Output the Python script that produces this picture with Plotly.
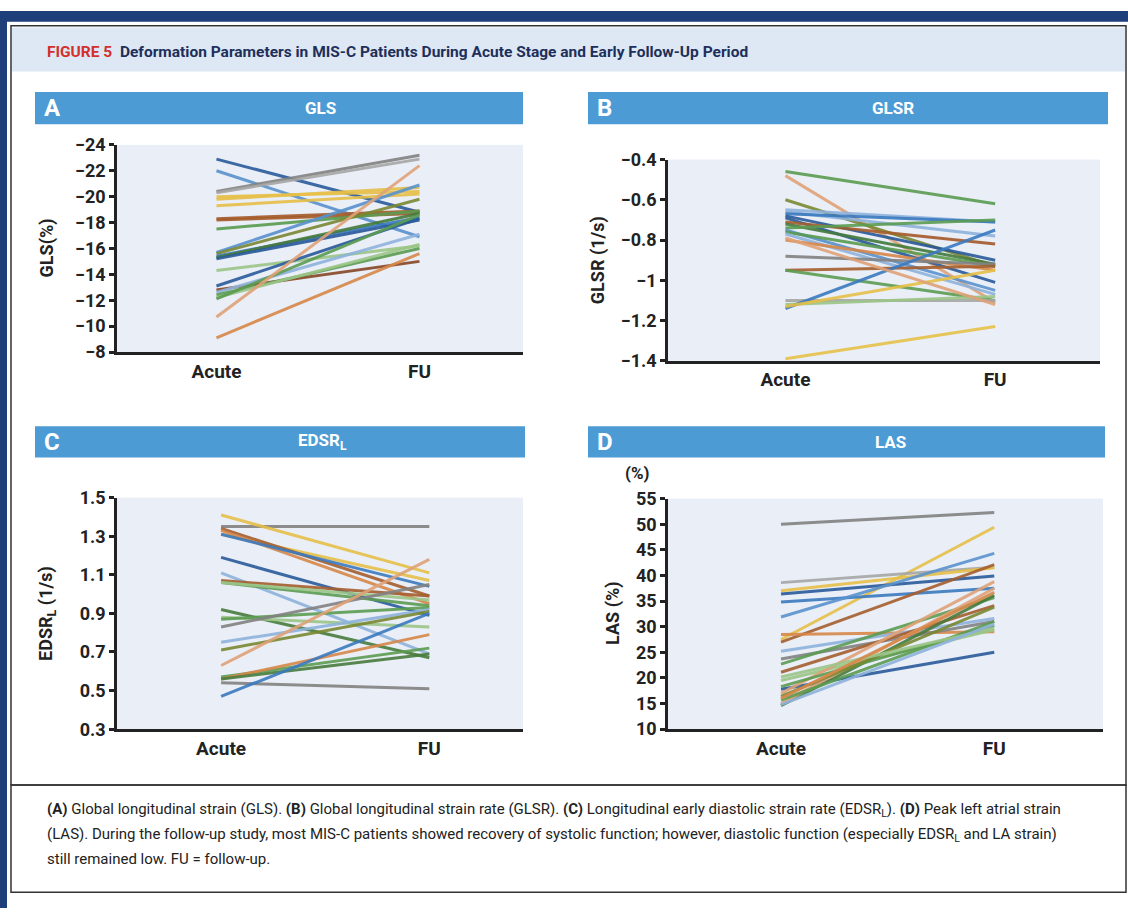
import plotly.graph_objects as go

W, H = 1128, 918

# ---------------- data ----------------
categories = ["Acute", "FU"]

GLS_acute = [-22.9, -22.0, -20.4, -20.3, -20.0, -19.8, -19.3, -18.3, -18.2, -17.5, -15.7, -15.6,
             -15.4, -15.3, -15.2, -14.3, -13.1, -12.8, -12.6, -12.4, -12.2, -12.1, -10.7, -9.1]
GLS_fu = [-18.8, -16.9, -23.2, -22.9, -20.4, -20.7, -20.2, -18.9, -18.7, -18.9, -20.9, -19.8,
          -18.4, -18.7, -18.2, -16.2, -18.3, -15.0, -17.1, -16.0, -16.3, -18.6, -22.4, -15.6]
GLS_colors = ["darkblue", "medblue", "gray", "lightgray", "yellow", "yellow", "yellow", "brown",
              "brown", "green", "medblue", "olive", "blue", "darkgreen", "darkblue", "lightgreen",
              "darkblue", "darkbrown", "lightblue", "green", "lightgreen", "green", "tan", "orange"]

GLSR_acute = [-0.46, -0.48, -0.60, -0.65, -0.66, -0.67, -0.68, -0.69, -0.71, -0.72, -0.74, -0.75,
              -0.76, -0.77, -0.80, -0.88, -0.95, -0.95, -1.10, -1.12, -1.14, -1.13, -1.39, -0.79]
GLSR_fu = [-0.62, -1.11, -0.93, -0.71, -0.78, -0.71, -0.90, -1.01, -0.82, -0.92, -0.70, -1.05,
           -0.93, -1.07, -0.95, -0.92, -0.93, -1.10, -1.10, -1.08, -0.75, -0.95, -1.23, -1.12]
GLSR_colors = ["green", "tan", "olive", "lightblue", "lightblue", "blue", "darkblue", "darkblue",
               "brown", "darkgreen", "green", "medblue", "green", "lightblue", "orange", "gray",
               "brown", "green", "lightgray", "lightgreen", "blue", "yellow", "yellow", "tan"]

EDSR_acute = [1.35, 1.41, 1.31, 1.34, 1.33, 1.31, 1.19, 1.11, 1.07, 1.06, 1.06, 0.92,
              0.88, 0.87, 0.83, 0.75, 0.71, 0.63, 0.57, 0.56, 0.56, 0.54, 0.47]
EDSR_fu = [1.35, 1.11, 1.07, 0.99, 0.95, 1.04, 0.89, 0.69, 0.99, 0.94, 0.97, 0.67,
           0.83, 0.93, 1.05, 0.92, 0.91, 1.18, 0.72, 0.79, 0.69, 0.51, 0.90]
EDSR_colors = ["gray", "yellow", "yellow", "brown", "orange", "blue", "darkblue", "lightblue",
               "brown", "green", "lightgreen", "darkgreen", "lightgreen", "green", "gray",
               "lightblue", "olive", "tan", "green", "orange", "darkgreen", "gray", "blue"]

LAS_acute = [50.0, 27.5, 38.6, 37.0, 36.4, 34.8, 31.9, 27.0, 28.5, 25.2, 23.7, 22.7,
             21.1, 19.5, 17.8, 14.6, 15.0, 15.7, 17.0, 18.3, 16.4, 20.2, 16.0, 14.8]
LAS_fu = [52.3, 49.4, 41.6, 41.5, 39.9, 37.5, 44.3, 42.1, 29.0, 31.6, 31.0, 35.7,
          34.1, 29.4, 25.0, 36.1, 37.5, 31.0, 38.8, 30.2, 33.8, 29.7, 36.7, 30.5]
LAS_colors = ["gray", "yellow", "lightgray", "yellow", "darkblue", "blue", "medblue", "brown",
              "orange", "lightblue", "gray", "green", "brown", "lightgreen", "darkblue",
              "darkgreen", "tan", "green", "tan", "green", "olive", "lightgreen", "orange", "lightblue"]

# ---------------- styles ----------------
PALETTE = {
    "darkblue": "#2a5b9a", "blue": "#3b7abf", "medblue": "#5a93cd", "lightblue": "#8fb3dc",
    "green": "#5c9c52", "darkgreen": "#487c3c", "olive": "#7a8932", "lightgreen": "#9cc688",
    "brown": "#a65f2e", "darkbrown": "#874725", "orange": "#d8884a", "tan": "#e0a277",
    "yellow": "#e6c048", "gray": "#828282", "lightgray": "#a6a6a6",
}
NAVY = "#1f3f7a"
HEADER = "#4d9bd5"
PLOT_BG = "#e9eef7"
DARK = "#222222"
FONT = "Roboto"


def px(x):
    return x / W


def py(y):
    return 1 - y / H


fig = go.Figure()

panels = [
    # name, acute, fu, colors, axis id, plot box (x0, x1, ytop, ybottom), yrange, dtick, xrange
    ("A", GLS_acute, GLS_fu, GLS_colors, "", (117, 523, 137, 349), [-8, -24], 2, [-0.49, 1.51]),
    ("B", GLSR_acute, GLSR_fu, GLSR_colors, "2", (668, 1100, 152, 358), [-1.4, -0.4], 0.2, [-0.56, 1.5]),
    ("C", EDSR_acute, EDSR_fu, EDSR_colors, "3", (117, 523, 498, 735), [0.3, 1.5], 0.2, [-0.5, 1.45]),
    ("D", LAS_acute, LAS_fu, LAS_colors, "4", (668, 1103, 499, 735), [10, 55], 5, [-0.53, 1.51]),
]

layout_axes = {}
for name, acute, fu, cols, ax, box, yr, dt, xr in panels:
    for a, f, c in zip(acute, fu, cols):
        fig.add_trace(go.Scatter(
            x=[0, 1], y=[a, f], mode="lines",
            line=dict(color=PALETTE[c], width=3), opacity=0.9,
            xaxis="x" + ax, yaxis="y" + ax, hoverinfo="skip", showlegend=False))
    x0, x1, yt, yb = box
    layout_axes["xaxis" + ax] = dict(
        domain=[px(x0), px(x1)], range=xr, anchor="y" + ax,
        tickvals=[0, 1], ticktext=categories, showgrid=False, zeroline=False,
        showline=True, linecolor=DARK, linewidth=2.5, ticks="",
        tickfont=dict(family=FONT, size=19, color=DARK, weight="bold"))
    layout_axes["yaxis" + ax] = dict(
        domain=[py(yb), py(yt)], range=yr, anchor="x" + ax, dtick=dt,
        tick0=yr[0], showgrid=False, zeroline=False,
        showline=True, linecolor=DARK, linewidth=2.5, ticks="outside",
        ticklen=5, tickwidth=2.5, tickcolor=DARK,
        tickfont=dict(family=FONT, size=18, color=DARK, weight="bold"))

fig.update_layout(**layout_axes)

shapes = []
annotations = []

# navy frame strips
shapes.append(dict(type="rect", xref="paper", yref="paper", x0=0, x1=1, y0=py(11), y1=1,
                   fillcolor=NAVY, line_width=0, layer="below"))
shapes.append(dict(type="rect", xref="paper", yref="paper", x0=0, x1=px(7), y0=py(918), y1=1,
                   fillcolor=NAVY, line_width=0, layer="below"))
# outer figure box
shapes.append(dict(type="rect", xref="paper", yref="paper", x0=px(11), x1=px(1126),
                   y0=py(792), y1=py(15), fillcolor="rgba(0,0,0,0)",
                   line=dict(color="#333333", width=1.5), layer="below"))
# title band
shapes.append(dict(type="rect", xref="paper", yref="paper", x0=px(12), x1=px(1125),
                   y0=py(62), y1=py(17), fillcolor="#dde8f4", line_width=0, layer="below"))
# caption box
shapes.append(dict(type="rect", xref="paper", yref="paper", x0=px(11), x1=px(1126),
                   y0=py(902), y1=py(792), fillcolor="rgba(0,0,0,0)",
                   line=dict(color="#333333", width=1.5), layer="below"))

# panel header bars
headers = [
    ("A", "GLS", 35, 523, 83, 116, 320),
    ("B", "GLSR", 588, 1108, 83, 116, 893),
    ("C", "EDSR<sub>L</sub>", 35, 525, 425, 457, 322),
    ("D", "LAS", 588, 1105, 425, 457, 890),
]
for letter, title, x0, x1, y0, y1, tc in headers:
    shapes.append(dict(type="rect", xref="paper", yref="paper", x0=px(x0), x1=px(x1),
                       y0=py(y1), y1=py(y0), fillcolor=HEADER, line_width=0, layer="below"))
    annotations.append(dict(xref="paper", yref="paper", x=px(x0 + 7), y=py((y0 + y1) / 2),
                            text=letter, showarrow=False, xanchor="left", yanchor="middle",
                            font=dict(family=FONT, size=24, color="white", weight="bold")))
    annotations.append(dict(xref="paper", yref="paper", x=px(tc), y=py((y0 + y1) / 2),
                            text=title, showarrow=False, xanchor="center", yanchor="middle",
                            font=dict(family=FONT, size=17, color="white", weight="bold")))

# y-axis titles
ytitles = [
    ("GLS(%)", 47, 243),
    ("GLSR (1/s)", 598, 255),
    ("EDSR<sub>L</sub> (1/s)", 47, 617),
    ("LAS (%)", 613, 617),
]
for t, x, y in ytitles:
    annotations.append(dict(xref="paper", yref="paper", x=px(x), y=py(y), text=t,
                            showarrow=False, textangle=-90, xanchor="center", yanchor="middle",
                            font=dict(family=FONT, size=18, color=DARK, weight="bold")))
annotations.append(dict(xref="paper", yref="paper", x=px(637), y=py(473), text="(%)",
                        showarrow=False, xanchor="center", yanchor="middle",
                        font=dict(family=FONT, size=17, color=DARK, weight="bold")))

# figure title
annotations.append(dict(xref="paper", yref="paper", x=px(45), y=py(42),
                        text="<span style='color:#d3302b'>FIGURE 5</span>&nbsp;&nbsp;"
                             "Deformation Parameters in MIS-C Patients During Acute Stage and Early Follow-Up Period",
                        showarrow=False, xanchor="left", yanchor="middle",
                        font=dict(family=FONT, size=15.5, color="#1d2f5a", weight="bold")))

# caption
caption_lines = [
    "<b>(A)</b> Global longitudinal strain (GLS). <b>(B)</b> Global longitudinal strain rate (GLSR). "
    "<b>(C)</b> Longitudinal early diastolic strain rate (EDSR<sub>L</sub>). <b>(D)</b> Peak left atrial strain",
    "(LAS). During the follow-up study, most MIS-C patients showed recovery of systolic function; "
    "however, diastolic function (especially EDSR<sub>L</sub> and LA strain)",
    "still remained low. FU = follow-up.",
]
for i, line in enumerate(caption_lines):
    annotations.append(dict(xref="paper", yref="paper", x=px(45), y=py(818 + 25 * i), text=line,
                            showarrow=False, xanchor="left", yanchor="middle",
                            font=dict(family=FONT, size=15, color=DARK)))

fig.update_layout(
    width=W, height=H, margin=dict(l=0, r=0, t=0, b=0),
    paper_bgcolor="white", plot_bgcolor=PLOT_BG, showlegend=False,
    shapes=shapes, annotations=annotations,
)

fig.write_html("out.html")
